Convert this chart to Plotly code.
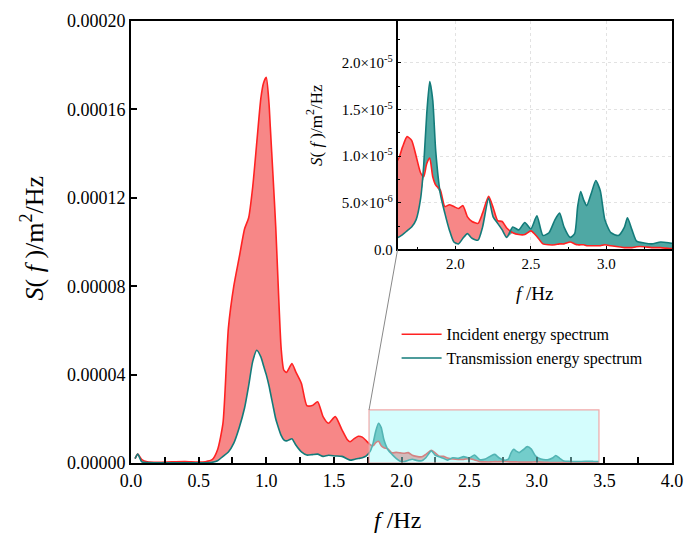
import numpy as np
import plotly.graph_objects as go

# Frequency grid (Hz) shared by both spectra
freq = [0.03, 0.05, 0.08, 0.12, 0.20, 0.30, 0.40, 0.50, 0.55, 0.60,
        0.64, 0.68, 0.72, 0.76, 0.80, 0.84, 0.87, 0.90, 0.93, 0.96,
        0.98, 1.00, 1.02, 1.03, 1.05, 1.07, 1.09, 1.11, 1.13, 1.15,
        1.17, 1.19, 1.22, 1.26, 1.30, 1.34, 1.38, 1.42, 1.46, 1.51,
        1.56, 1.60, 1.62, 1.65, 1.68, 1.71, 1.74, 1.77, 1.79, 1.81,
        1.83, 1.85, 1.87, 1.90, 1.93, 1.96, 1.99, 2.02, 2.05, 2.08,
        2.11, 2.15, 2.18, 2.22, 2.25, 2.28, 2.31, 2.34, 2.38, 2.42,
        2.46, 2.50, 2.54, 2.58, 2.62, 2.66, 2.69, 2.72, 2.76, 2.79,
        2.81, 2.83, 2.85, 2.87, 2.90, 2.93, 2.96, 2.99, 3.03, 3.08,
        3.12, 3.14, 3.17, 3.20, 3.25, 3.30, 3.36, 3.42, 3.46]

# Spectral densities in units of 1e-6 m^2/Hz
incident_u = [2.0, 4.0, 1.5, 0.5, 0.3, 0.5, 0.6, 0.4, 0.6, 1.5,
              6.0, 18.0, 61.0, 80.0, 93.0, 106.0, 111.0, 125.0, 145.0, 165.0,
              172.0, 174.5, 163.0, 152.0, 130.0, 107.0, 78.0, 52.0, 42.0, 41.0,
              43.0, 45.0, 41.0, 36.0, 26.0, 26.0, 27.7, 21.0, 18.0, 21.0,
              15.0, 10.5, 9.6, 11.0, 12.1, 11.7, 10.0, 8.2, 7.8, 9.2,
              9.8, 7.8, 6.9, 6.4, 4.6, 4.8, 4.6, 4.4, 4.7, 3.5,
              3.0, 2.8, 3.9, 5.7, 4.5, 3.1, 3.0, 2.3, 1.8, 1.6,
              1.6, 2.0, 1.4, 0.6, 0.5, 0.5, 0.6, 0.6, 0.8, 0.6,
              0.5, 0.5, 0.5, 0.4, 0.4, 0.4, 0.4, 0.5, 0.4, 0.3,
              0.2, 0.2, 0.2, 0.3, 0.3, 0.2, 0.2, 0.1, 0.1]

transmission_u = [2.0, 4.0, 0.5, 0.2, 0.1, 0.1, 0.1, 0.1, 0.1, 0.3,
                  1.0, 3.0, 5.0, 9.0, 16.0, 25.0, 35.0, 46.0, 51.0, 48.0,
                  44.0, 40.0, 35.0, 32.0, 26.0, 20.0, 16.0, 12.5, 10.5, 10.0,
                  10.5, 11.0, 8.0, 5.0, 3.6, 3.8, 4.0, 3.0, 3.5, 3.2,
                  3.0, 1.8, 1.3, 1.6, 2.0, 2.4, 3.2, 5.5, 9.0, 14.5,
                  18.0, 16.0, 10.5, 6.0, 3.9, 2.1, 0.8, 0.6, 1.2, 1.7,
                  1.2, 1.0, 2.4, 5.5, 3.5, 2.8, 2.1, 1.3, 2.4, 2.1,
                  2.9, 2.2, 3.6, 1.5, 1.8, 3.2, 3.9, 2.4, 1.3, 1.7,
                  4.6, 6.2, 5.3, 4.7, 6.0, 7.4, 6.3, 3.2, 1.8, 1.5,
                  2.4, 3.4, 2.1, 0.9, 0.7, 0.6, 0.8, 0.7, 0.6]

series_names = ["Incident energy spectrum", "Transmission energy spectrum"]

# Zoom window shown in the inset (Hz, m^2/Hz)
zoom_x = [1.76, 3.46]
zoom_y = [0.0, 2.4e-5]

main_x_range = [0.0, 4.0]
main_y_range = [0.0, 2.0e-4]
main_y_ticks = [0.0, 4e-5, 8e-5, 1.2e-4, 1.6e-4, 2.0e-4]
inset_x_range = [1.617, 3.435]
inset_y_range = [0.0, 2.45e-5]
inset_y_ticks = [0.0, 5e-6, 1e-5, 1.5e-5, 2e-5]
inset_y_text = ["0.0", "5.0×10<sup>-6</sup>", "1.0×10<sup>-5</sup>",
                "1.5×10<sup>-5</sup>", "2.0×10<sup>-5</sup>"]

RED_LINE = "#ff2222"
RED_FILL = "#f78787"
TEAL_LINE = "#137b7a"
TEAL_FILL = "#4fa8a4"
FONT = "Liberation Serif"

f = np.array(freq)
inc = np.array(incident_u) * 1e-6
tra = np.array(transmission_u) * 1e-6
low = np.minimum(inc, tra)

fig = go.Figure()


def add_spectra(xa, ya, legend):
    common = dict(x=f, xaxis=xa, yaxis=ya, mode="lines", hoverinfo="skip",
                  showlegend=False)
    spl = dict(shape="spline", smoothing=0.6)
    # band where the incident spectrum lies above the transmitted one
    fig.add_trace(go.Scatter(y=low, line=dict(width=0, **spl), **common))
    fig.add_trace(go.Scatter(y=inc, fill="tonexty", fillcolor=RED_FILL,
                             line=dict(width=0, **spl), **common))
    # band where the transmitted spectrum lies above the incident one
    fig.add_trace(go.Scatter(y=low, line=dict(width=0, **spl), **common))
    fig.add_trace(go.Scatter(y=tra, fill="tonexty", fillcolor=TEAL_FILL,
                             line=dict(width=0, **spl), **common))
    # outlines
    fig.add_trace(go.Scatter(x=f, y=inc, xaxis=xa, yaxis=ya, mode="lines",
                             name=series_names[0], showlegend=legend,
                             line=dict(color=RED_LINE, width=1.6, **spl),
                             hoverinfo="skip"))
    fig.add_trace(go.Scatter(x=f, y=tra, xaxis=xa, yaxis=ya, mode="lines",
                             name=series_names[1], showlegend=legend,
                             line=dict(color=TEAL_LINE, width=1.6, **spl),
                             hoverinfo="skip"))


add_spectra("x", "y", True)
add_spectra("x2", "y2", False)

W, H = 694, 533
ml, mr, mt, mb = 131, 11, 20, 70
pw, ph = W - ml - mr, H - mt - mb
inset_dom_x = [(403 - ml) / pw, 1.0]
inset_dom_y = [(H - mb - 249) / ph, 1.0]


def px(xp):
    return (xp - ml) / pw


def py(yp):
    return (H - mb - yp) / ph


tick_font = dict(family=FONT, size=18, color="black")
small_font = dict(family=FONT, size=15, color="black")

fig.update_layout(
    width=W, height=H,
    margin=dict(l=ml, r=mr, t=mt, b=mb),
    paper_bgcolor="white", plot_bgcolor="white",
    font=dict(family=FONT, color="black"),
    showlegend=True,
    legend=dict(x=px(402), y=py(317), xanchor="left", yanchor="top",
                bgcolor="rgba(0,0,0,0)", traceorder="normal",
                font=dict(family=FONT, size=16, color="black"),
                itemwidth=40, tracegroupgap=0),
    xaxis=dict(range=main_x_range, dtick=0.5, tickformat=".1f",
               ticks="inside", ticklen=6, tickwidth=1.5, tickcolor="black",
               minor=dict(dtick=0.25, ticks="inside", ticklen=6,
                          tickwidth=1.5, tickcolor="black"),
               showline=True, linecolor="black", linewidth=1.8, mirror=True,
               showgrid=False, zeroline=False, tickfont=tick_font),
    yaxis=dict(range=main_y_range, tickvals=main_y_ticks, tickformat=".5f",
               ticks="inside", ticklen=6, tickwidth=1.5, tickcolor="black",
               showline=True, linecolor="black", linewidth=1.8, mirror=True,
               showgrid=False, zeroline=False, tickfont=tick_font),
    xaxis2=dict(domain=inset_dom_x, anchor="y2", range=inset_x_range,
                tickvals=[2.0, 2.5, 3.0], tickformat=".1f",
                ticks="inside", ticklen=4, tickwidth=1.2, tickcolor="black",
                minor=dict(tickvals=[1.75, 2.25, 2.75, 3.25], ticks="inside",
                           ticklen=3, tickwidth=1.2, tickcolor="black",
                           showgrid=False),
                showline=True, linecolor="black", linewidth=1.5,
                showgrid=True, gridcolor="#e2e2e2", griddash="dot",
                gridwidth=1, zeroline=False, tickfont=small_font),
    yaxis2=dict(domain=inset_dom_y, anchor="x2", range=inset_y_range,
                tickvals=inset_y_ticks, ticktext=inset_y_text,
                ticks="inside", ticklen=4, tickwidth=1.2, tickcolor="black",
                minor=dict(dtick=2.5e-6, ticks="inside", ticklen=3,
                           tickwidth=1.2, tickcolor="black", showgrid=False),
                showline=True, linecolor="black", linewidth=1.5,
                showgrid=True, gridcolor="#e2e2e2", griddash="dot",
                gridwidth=1, zeroline=False, tickfont=small_font),
)

# highlighted zoom window on the main axes
fig.add_shape(type="rect", xref="x", yref="y",
              x0=zoom_x[0], x1=zoom_x[1], y0=zoom_y[0], y1=zoom_y[1],
              fillcolor="rgba(160,250,250,0.45)",
              line=dict(color="rgba(240,160,160,0.9)", width=1.2),
              layer="above")

# connector from the zoom window to the inset corner
cx = (zoom_x[0] - main_x_range[0]) / (main_x_range[1] - main_x_range[0])
cy = (zoom_y[1] - main_y_range[0]) / (main_y_range[1] - main_y_range[0])
fig.add_shape(type="line", xref="paper", yref="paper",
              x0=cx, y0=cy, x1=inset_dom_x[0], y1=inset_dom_y[0],
              line=dict(color="#888888", width=1))

# axis titles
title_main = "<i>S</i>(<i> f </i>)/m<sup>2</sup>/Hz"
fig.add_annotation(text=title_main, xref="paper", yref="paper",
                   x=px(31), y=py(237), xanchor="center", yanchor="middle",
                   textangle=-90, showarrow=False,
                   font=dict(family=FONT, size=26, color="black"))
fig.add_annotation(text="<i>f</i> /Hz", xref="paper", yref="paper",
                   x=px(403), y=py(520), xanchor="center", yanchor="middle",
                   showarrow=False,
                   font=dict(family=FONT, size=24, color="black"))
fig.add_annotation(text=title_main, xref="paper", yref="paper",
                   x=px(318), y=py(124), xanchor="center", yanchor="middle",
                   textangle=-90, showarrow=False,
                   font=dict(family=FONT, size=17, color="black"))
fig.add_annotation(text="<i>f</i> /Hz", xref="paper", yref="paper",
                   x=px(543), y=py(293), xanchor="center", yanchor="middle",
                   showarrow=False,
                   font=dict(family=FONT, size=19, color="black"))

fig.write_html("out.html")
